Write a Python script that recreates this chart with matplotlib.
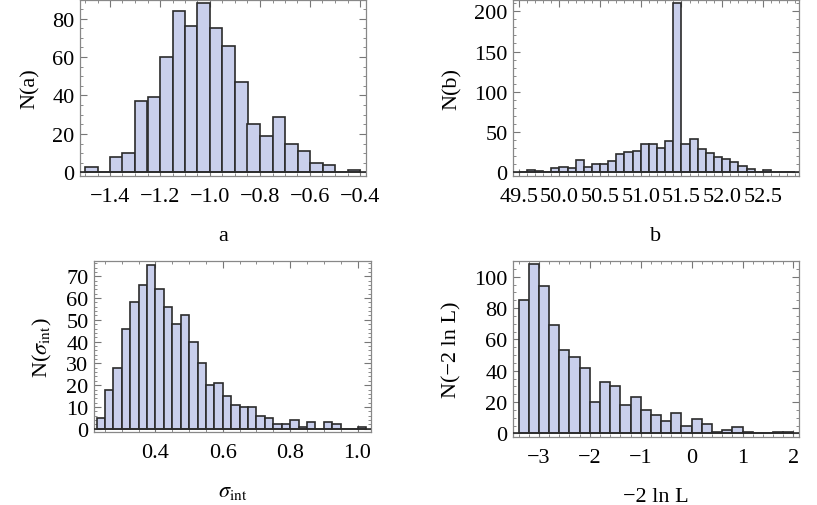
import numpy as np
import matplotlib
matplotlib.use('Agg')
import matplotlib.pyplot as plt
from matplotlib.ticker import MultipleLocator

plt.rcParams['font.family'] = ['Liberation Serif', 'DejaVu Serif']
plt.rcParams['mathtext.fontset'] = 'stix'
plt.rcParams['font.size'] = 16

# histogram counts
a_start, a_width = -1.5, 0.05
a_counts = [3, 0, 8, 10, 37, 39, 60, 84, 76, 88, 75, 66, 47, 25, 19, 29, 15, 11, 5, 4, 0, 1]

b_start, b_width = 49.5, 0.1
b_counts = [1, 3, 2, 1, 5, 7, 5, 15, 7, 11, 11, 14, 23, 25, 27, 35, 35, 30, 39, 210,
            35, 41, 29, 24, 19, 16, 13, 8, 4, 0, 3, 0, 0, 1]

s_start, s_width = 0.225, 0.025
s_counts = [5, 18, 28, 46, 58, 66, 75, 64, 56, 48, 52, 40, 30, 20, 21, 15, 11, 10, 10, 6,
            5, 2, 2, 4, 1, 3, 0, 3, 2, 0, 0, 1]

l_start, l_width = -3.4, 0.2
l_counts = [85, 108, 94, 69, 53, 49, 42, 20, 33, 30, 18, 23, 15, 12, 8, 13, 5, 9, 6, 1,
            2, 4, 1, 0, 0, 1, 1]

W, H = 817, 506
fig = plt.figure(figsize=(W / 100, H / 100), dpi=100)

def add_ax(l, t, r, b):
    # pixel box -> figure fraction
    return fig.add_axes([l / W, 1 - b / H, (r - l) / W, (b - t) / H])

def hist(ax, start, width, counts, xlim, ylim, xmaj, xmin, ymaj, ymin, xlabel, ylabel):
    edges = start + width * np.arange(len(counts))
    ax.bar(edges, counts, width=width, align='edge', color='#c9cfec',
           edgecolor='#2b2b2b', linewidth=1.2, zorder=2)
    ax.axhline(0, color='#2b2b2b', lw=1.2, zorder=3)
    ax.set_xlim(*xlim)
    ax.set_ylim(*ylim)
    ax.xaxis.set_major_locator(MultipleLocator(xmaj))
    ax.xaxis.set_minor_locator(MultipleLocator(xmin))
    ax.yaxis.set_major_locator(MultipleLocator(ymaj))
    ax.yaxis.set_minor_locator(MultipleLocator(ymin))
    ax.tick_params(which='both', direction='in', top=True, right=True, color='#777777')
    ax.tick_params(which='major', length=5, width=0.8)
    ax.tick_params(which='minor', length=2.5, width=0.6)
    ax.tick_params(axis='x', pad=8)
    ax.tick_params(axis='y', pad=4)
    for s in ax.spines.values():
        s.set_color('#888888')
        s.set_linewidth(0.9)
    ax.set_xlabel(xlabel, labelpad=14)
    ax.set_ylabel(ylabel, labelpad=9)

ax1 = add_ax(80, 1, 366, 177)
hist(ax1, a_start, a_width, a_counts, (-1.52, -0.376), (-1.9, 89.7),
     0.2, 0.05, 20, 5, 'a', 'N(a)')

ax2 = add_ax(513, 1, 799, 177)
hist(ax2, b_start, b_width, b_counts, (49.43, 52.945), (-4.5, 214),
     0.5, 0.1, 50, 10, 'b', 'N(b)')
ax2.set_xticks(np.arange(49.5, 52.6, 0.5))
ax2.set_xticklabels(['49.5', '50.0', '50.5', '51.0', '51.5', '52.0', '52.5'])

ax3 = add_ax(94, 262, 371, 433)
hist(ax3, s_start, s_width, s_counts, (0.2175, 1.04), (-1.5, 77),
     0.2, 0.05, 10, 2, r'$\sigma_{\rm int}$', r'N($\sigma_{\rm int}$)')

ax4 = add_ax(513, 262, 799, 438)
hist(ax4, l_start, l_width, l_counts, (-3.51, 2.11), (-2.3, 110),
     1, 0.2, 20, 5, '\u22122 ln L', 'N(\u22122 ln L)')

fig.savefig('out.png', dpi=100)
